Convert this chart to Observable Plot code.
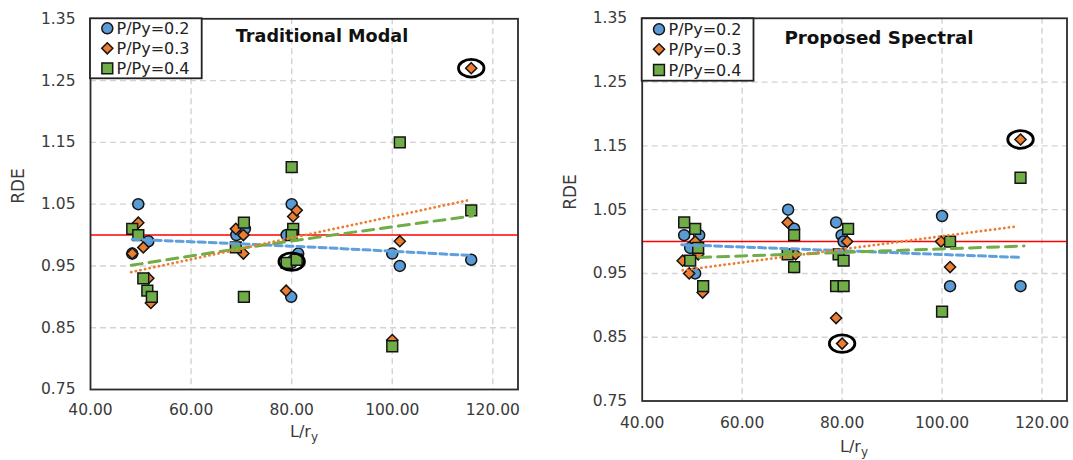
<!DOCTYPE html>
<html>
<head>
<meta charset="utf-8">
<script src="https://cdn.jsdelivr.net/npm/d3@7"></script>
<script src="https://cdn.jsdelivr.net/npm/@observablehq/plot@0.6"></script>
<style>
  html, body { margin: 0; padding: 0; background: #fff; }
  #wrap { position: relative; width: 1073px; height: 460px; overflow: hidden; background: #fff; font-family: "DejaVu Sans", sans-serif; }
  .chart { position: absolute; top: 0; }
  #overlay { position: absolute; left: 0; top: 0; pointer-events: none; }
</style>
</head>
<body>
<div id="wrap">
  <div id="c1" class="chart" style="left:0px"></div>
  <div id="c2" class="chart" style="left:530px"></div>
</div>
<script>
// ---------- shared axis data ----------
const xTicks = [40, 60, 80, 100, 120];
const yTicks = [0.75, 0.85, 0.95, 1.05, 1.15, 1.25, 1.35];
const xGrid = [60, 80, 100, 120];
const yGrid = [0.85, 0.95, 1.05, 1.15, 1.25];
const refLine = [1.0];
const seriesNames = ["P/Py=0.2", "P/Py=0.3", "P/Py=0.4"];
const seriesColors = ["#5B9BD5", "#ED7D31", "#70AD47"];
const titles = ["Traditional Modal", "Proposed Spectral"];

// ---------- Traditional Modal ----------
const tmX02 = [49.5, 51.5, 48.3, 69.0, 70.7, 80.0, 79.0, 81.3, 80.0, 79.9, 100.0, 101.5, 115.7];
const tmY02 = [1.05, 0.99, 0.97, 1.00, 1.01, 1.05, 1.00, 0.97, 0.955, 0.90, 0.97, 0.95, 0.96];
const tmX03 = [49.5, 50.5, 48.3, 51.5, 52.0, 68.9, 70.4, 70.4, 80.3, 81.0, 80.0, 78.9, 100.0, 101.5, 115.7];
const tmY03 = [1.02, 0.98, 0.97, 0.93, 0.89, 1.01, 1.00, 0.97, 1.03, 1.04, 0.96, 0.91, 0.83, 0.99, 1.27];
const tmX04 = [48.3, 49.5, 50.5, 51.3, 52.2, 68.9, 70.5, 70.5, 80.0, 80.3, 80.0, 79.0, 81.0, 101.5, 100.0, 115.7];
const tmY04 = [1.01, 1.00, 0.93, 0.91, 0.90, 0.98, 1.02, 0.90, 1.11, 1.01, 1.00, 0.955, 0.96, 1.15, 0.82, 1.04];
const tmHiX = [80.0, 115.7];
const tmHiY = [0.957, 1.27];
const tmTrendX02 = [48.3, 80.0, 115.5];
const tmTrendY02 = [0.993, 0.982, 0.967];
const tmTrendX03 = [48.1, 115.5];
const tmTrendY03 = [0.940, 1.057];
const tmTrendX04 = [48.1, 70.4, 116.0];
const tmTrendY04 = [0.951, 0.979, 1.031];

// ---------- Proposed Spectral ----------
const psX02 = [48.4, 51.4, 49.6, 50.6, 69.2, 70.4, 78.8, 79.9, 80.3, 100.0, 101.6, 115.7];
const psY02 = [1.01, 1.01, 0.99, 0.95, 1.05, 1.02, 1.03, 1.01, 1.00, 1.04, 0.93, 0.93];
const psX03 = [48.1, 49.4, 50.6, 51.2, 52.1, 69.1, 70.7, 78.8, 80.0, 81.0, 99.8, 101.6, 115.7];
const psY03 = [0.97, 0.95, 1.00, 0.98, 0.92, 1.03, 0.98, 0.88, 0.84, 1.00, 1.00, 0.96, 1.16];
const psX04 = [48.4, 50.6, 51.2, 49.6, 52.2, 69.1, 70.4, 70.4, 81.2, 79.3, 80.3, 78.8, 80.3, 100.0, 101.6, 115.7];
const psY04 = [1.03, 1.02, 0.99, 0.97, 0.93, 0.98, 1.01, 0.96, 1.02, 0.98, 0.97, 0.93, 0.93, 0.89, 1.00, 1.10];
const psHiX = [80.0, 115.7];
const psHiY = [0.84, 1.16];
const psTrendX02 = [47.9, 116.0];
const psTrendY02 = [0.995, 0.975];
const psTrendX03 = [48.1, 115.2];
const psTrendY03 = [0.955, 1.024];
const psTrendX04 = [51.5, 116.4];
const psTrendY04 = [0.975, 0.993];

// ---------- helpers ----------
const zip = (xs, ys) => xs.map((x, i) => ({x, y: ys[i]}));
const fmt = d3.format(".2f");
const markR = [5.5, 5.0, 6.1];

// ellipse symbol for highlighted points
const ellipse = {
  draw(ctx, size) {
    const r = Math.sqrt(size / Math.PI), a = 1.45 * r, b = r, k = 0.5523;
    ctx.moveTo(a, 0);
    ctx.bezierCurveTo(a, k * b, k * a, b, 0, b);
    ctx.bezierCurveTo(-k * a, b, -a, k * b, -a, 0);
    ctx.bezierCurveTo(-a, -k * b, -k * a, -b, 0, -b);
    ctx.bezierCurveTo(k * a, -b, a, -k * b, a, 0);
    ctx.closePath();
  }
};

function makeChart(cfg) {
  const d02 = zip(cfg.x02, cfg.y02), d03 = zip(cfg.x03, cfg.y03), d04 = zip(cfg.x04, cfg.y04);
  const hi = zip(cfg.hiX, cfg.hiY);
  const t02 = zip(cfg.tx02, cfg.ty02), t03 = zip(cfg.tx03, cfg.ty03), t04 = zip(cfg.tx04, cfg.ty04);
  const mk = {stroke: "#141414", strokeWidth: 1.5};
  return Plot.plot({
    width: cfg.width, height: 460,
    marginLeft: cfg.ml, marginRight: cfg.mr, marginTop: cfg.mt, marginBottom: cfg.mb,
    style: {fontFamily: "DejaVu Sans", fontSize: "15px", color: "#3a3a3a", background: "transparent", overflow: "visible"},
    x: {domain: [40, 125]},
    y: {domain: [0.75, 1.35]},
    marks: [
      Plot.gridX(xGrid, {stroke: "#d3d3d3", strokeOpacity: 1, strokeWidth: 1.4, strokeDasharray: "6,4"}),
      Plot.gridY(yGrid, {stroke: "#d3d3d3", strokeOpacity: 1, strokeWidth: 1.4, strokeDasharray: "6,4"}),
      Plot.axisX(xTicks, {tickSize: 0, tickPadding: cfg.xPad, tickFormat: fmt, label: null, fontSize: 15.5}),
      Plot.axisY(yTicks, {tickSize: 0, tickPadding: 15, tickFormat: fmt, label: null, fontSize: 15.5}),
      Plot.ruleY(refLine, {stroke: "#ff0000", strokeWidth: 1.4}),
      Plot.dot(d02, {x: "x", y: "y", symbol: "circle", r: markR[0], fill: seriesColors[0], ...mk}),
      Plot.dot(d03, {x: "x", y: "y", symbol: "diamond2", r: markR[1], fill: seriesColors[1], ...mk}),
      Plot.dot(d04, {x: "x", y: "y", symbol: "square", r: markR[2], fill: seriesColors[2], ...mk}),
      Plot.line(t02, {x: "x", y: "y", stroke: "#5fa0dc", strokeWidth: 3, strokeDasharray: "7,4", curve: "monotone-x"}),
      Plot.line(t04, {x: "x", y: "y", stroke: "#70AD47", strokeWidth: 3, strokeDasharray: "11,7", curve: "monotone-x"}),
      Plot.line(t03, {x: "x", y: "y", stroke: "#ED7D31", strokeWidth: 2.8, strokeDasharray: "0.1,4.6", strokeLinecap: "round"}),
      Plot.dot(hi, {x: "x", y: "y", symbol: ellipse, r: 8.8, fill: "none", stroke: "#000", strokeWidth: 2.8}),
      Plot.frame({stroke: "#2b2b2b", strokeWidth: 1.8})
    ]
  });
}

document.getElementById("c1").appendChild(makeChart({
  width: 530, ml: 90, mr: 12.5, mt: 18.3, mb: 71, xPad: 14.5,
  x02: tmX02, y02: tmY02, x03: tmX03, y03: tmY03, x04: tmX04, y04: tmY04,
  hiX: tmHiX, hiY: tmHiY,
  tx02: tmTrendX02, ty02: tmTrendY02, tx03: tmTrendX03, ty03: tmTrendY03, tx04: tmTrendX04, ty04: tmTrendY04
}));
document.getElementById("c2").appendChild(makeChart({
  width: 543, ml: 111.7, mr: 6.5, mt: 17.8, mb: 59.5, xPad: 15.8,
  x02: psX02, y02: psY02, x03: psX03, y03: psY03, x04: psX04, y04: psY04,
  hiX: psHiX, hiY: psHiY,
  tx02: psTrendX02, ty02: psTrendY02, tx03: psTrendX03, ty03: psTrendY03, tx04: psTrendX04, ty04: psTrendY04
}));

// ---------- overlay: titles, legends, axis labels ----------
const ov = d3.select("#wrap").append("svg").attr("id", "overlay")
  .attr("width", 1073).attr("height", 460)
  .style("font-family", "DejaVu Sans");

const panels = [
  {title: titles[0], tx: 322, ty: 36, tfs: 17.6,
   box: [90, 18.3, 111.7, 60], mx: 107.3, tx0: 116.5, rows: [28.3, 48.3, 68.3],
   rde: [17.5, 186], xl: [304, 433]},
  {title: titles[1], tx: 879, ty: 37.3, tfs: 18.3,
   box: [641.7, 18.3, 111.8, 62.4], mx: 659, tx0: 668.5, rows: [29.3, 49.3, 70],
   rde: [570, 192], xl: [854, 448]}
];

panels.forEach(p => {
  ov.append("text").attr("x", p.tx).attr("y", p.ty + 0.36 * p.tfs)
    .attr("text-anchor", "middle").attr("font-weight", "bold")
    .attr("font-size", p.tfs).attr("fill", "#111").text(p.title);
  ov.append("rect").attr("x", p.box[0]).attr("y", p.box[1]).attr("width", p.box[2]).attr("height", p.box[3])
    .attr("fill", "#fff").attr("stroke", "#222").attr("stroke-width", 1.8);
  const syms = [d3.symbolCircle, d3.symbolDiamond2, d3.symbolSquare];
  seriesNames.forEach((name, i) => {
    ov.append("path").attr("d", d3.symbol(syms[i], markR[i] * markR[i] * Math.PI)())
      .attr("transform", `translate(${p.mx},${p.rows[i]})`)
      .attr("fill", seriesColors[i]).attr("stroke", "#141414").attr("stroke-width", 1.5);
    ov.append("text").attr("x", p.tx0).attr("y", p.rows[i] + 5.8)
      .attr("font-size", 16).attr("fill", "#222").text(name);
  });
  ov.append("text").attr("transform", `translate(${p.rde[0] + 6},${p.rde[1]}) rotate(-90)`)
    .attr("text-anchor", "middle").attr("font-size", 17).attr("fill", "#3a3a3a").text("RDE");
  const xl = ov.append("text").attr("x", p.xl[0]).attr("y", p.xl[1] + 4)
    .attr("text-anchor", "middle").attr("font-size", 16).attr("fill", "#3a3a3a");
  xl.append("tspan").text("L/r");
  xl.append("tspan").attr("font-size", 12).attr("dy", 4).text("y");
});
</script>
</body>
</html>
